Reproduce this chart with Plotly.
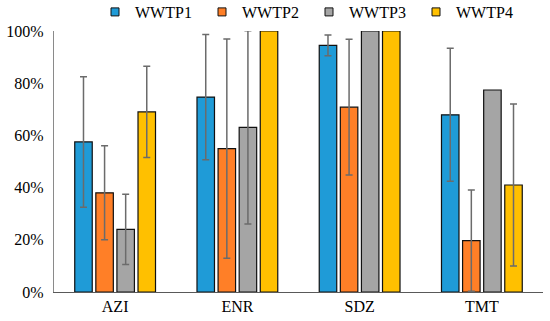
import numpy as np
import plotly.graph_objects as go

categories = ["AZI", "ENR", "SDZ", "TMT"]
series_names = ["WWTP1", "WWTP2", "WWTP3", "WWTP4"]

wwtp1 = [0.575, 0.747, 0.945, 0.679]
wwtp2 = [0.380, 0.549, 0.708, 0.197]
wwtp3 = [0.240, 0.631, 1.000, 0.774]
wwtp4 = [0.690, 1.000, 1.000, 0.410]

wwtp1_err = [0.25, 0.24, 0.04, 0.255]
wwtp2_err = [0.18, 0.42, 0.26, 0.194]
wwtp3_err = [0.135, 0.37, None, None]
wwtp4_err = [0.175, None, None, 0.31]

y_ticks = [0, 0.2, 0.4, 0.6, 0.8, 1.0]
y_tick_labels = ["0%", "20%", "40%", "60%", "80%", "100%"]

colors = ["#1F9BD7", "#FF7F27", "#A5A5A5", "#FFC000"]
FONT = "Liberation Serif"

fig = go.Figure()
for name, vals, errs, col in zip(series_names, [wwtp1, wwtp2, wwtp3, wwtp4],
                                 [wwtp1_err, wwtp2_err, wwtp3_err, wwtp4_err], colors):
    fig.add_trace(go.Bar(
        x=categories, y=vals, name=name, showlegend=False,
        marker=dict(color=col, line=dict(color="#111111", width=1.2)),
        error_y=dict(type="data", array=np.array(errs, dtype=float), visible=True,
                     color="#6b6b6b", thickness=1.5, width=3.5),
        cliponaxis=False,
    ))
    # legend entry
    fig.add_trace(go.Scatter(
        x=[None], y=[None], mode="markers", name=name,
        marker=dict(symbol="square", size=8, color=col, line=dict(color="#111111", width=1)),
    ))

fig.update_layout(
    width=550, height=321,
    margin=dict(l=54, r=7, t=31, b=29, autoexpand=False),
    paper_bgcolor="white", plot_bgcolor="white",
    font=dict(family=FONT, size=16, color="black"),
    bargap=0.31, bargroupgap=0.17, barmode="group",
    legend=dict(orientation="h", xref="container", yref="container",
                x=95 / 550, y=1 - 12 / 321, xanchor="left", yanchor="middle",
                entrywidth=62, entrywidthmode="pixels", itemclick=False,
                font=dict(family=FONT, size=16), tracegroupgap=0,
                bgcolor="rgba(0,0,0,0)"),
    xaxis=dict(showline=True, linecolor="#595959", linewidth=1.2, ticks="",
               showgrid=False, zeroline=False, automargin=False),
    yaxis=dict(range=[0, 1.0], tickvals=y_ticks, ticktext=y_tick_labels,
               showline=True, linecolor="#8a8a8a", linewidth=1.2, ticks="",
               showgrid=False, zeroline=False, ticklabelstandoff=6, automargin=False),
)

fig.write_html("out.html", config={"displayModeBar": False},
               post_script="document.body.style.margin='0px';document.body.style.overflow='hidden';")
